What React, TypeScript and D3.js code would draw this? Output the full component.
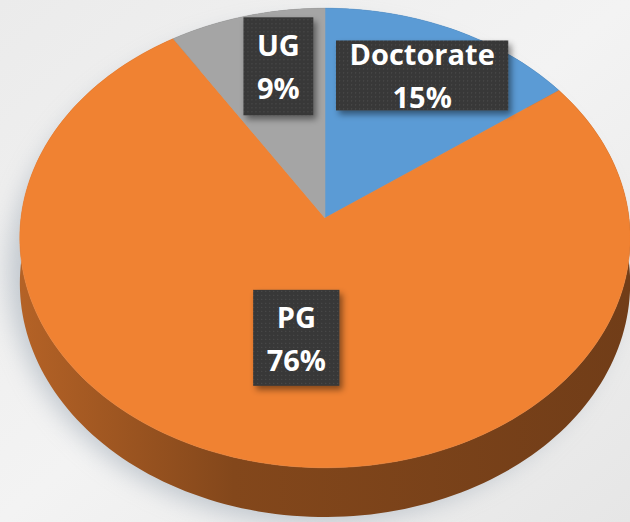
import React from "react";
import * as d3 from "d3";

// slice data, clockwise from 12 o'clock
const categories = ["Doctorate", "PG", "UG"];
const values = [15, 76, 9];
const colors = ["#5B9BD5", "#F08232", "#A5A5A5"];
// label nudges relative to the projected centroid
const labelNudge = [
  [3, -4],
  [15, -52],
  [11, -3],
];
const labelPadY = [0, 13, 14];

const W = 630;
const H = 522;
const cx = 325;
const cy = 218;
const rx = 304;
const ry = 228;
const k = 0.087; // perspective strength
const depth = 45;
const fontSize = 29;
const font = `bold ${fontSize}px 'Open Sans'`;

// unit disk -> screen, angle clockwise from top
function project(a: number, r: number, drop = 0): [number, number] {
  const u = Math.sin(a) * r;
  const v = -Math.cos(a) * r;
  const w = 1 / (1 - k * v);
  return [cx + rx * u * w, cy + ry * v * w + drop * w];
}

function arcPoints(a0: number, a1: number, drop = 0) {
  const n = Math.max(2, Math.ceil(((a1 - a0) / (2 * Math.PI)) * 240));
  const pts: [number, number][] = [];
  for (let i = 0; i <= n; i++) pts.push(project(a0 + ((a1 - a0) * i) / n, 1, drop));
  return pts;
}

let ctx: CanvasRenderingContext2D | null = null;
function textWidth(s: string) {
  if (!ctx) ctx = document.createElement("canvas").getContext("2d");
  if (!ctx) return s.length * fontSize * 0.55;
  ctx.font = font;
  return ctx.measureText(s).width;
}

export default function App() {
  const pie = d3
    .pie<number>()
    .sort(null)
    .value((d) => d);
  const arcs = pie(values);
  const line = d3.line();
  const total = d3.sum(values);

  React.useEffect(() => {
    document.body.style.margin = "0";
  }, []);

  return (
    <svg width={W} height={H} style={{ display: "block" }}>
      <defs>
        <linearGradient id="bg" x1="0" y1="0" x2="1" y2="1">
          <stop offset="0" stopColor="#ebebeb" />
          <stop offset="0.5" stopColor="#f3f3f3" />
          <stop offset="1" stopColor="#e6e6e6" />
        </linearGradient>
        <filter id="blur" x="-20%" y="-20%" width="140%" height="140%">
          <feGaussianBlur stdDeviation="12" />
        </filter>
        <filter id="boxShadow" x="-30%" y="-30%" width="160%" height="160%">
          <feDropShadow dx="3" dy="4" stdDeviation="3" floodColor="#000" floodOpacity="0.45" />
        </filter>
        <pattern id="dots" width="4" height="4" patternUnits="userSpaceOnUse">
          <rect width="4" height="4" fill="#383838" />
          <rect x="1" y="1" width="1" height="1" fill="#525252" />
        </pattern>
        {arcs.map((a, i) => {
          const c = d3.color(colors[i])!;
          return (
            <linearGradient
              key={i}
              id={"wall" + i}
              gradientUnits="userSpaceOnUse"
              x1={cx - rx}
              y1={0}
              x2={cx + rx}
              y2={0}
            >
              <stop offset="0" stopColor={c.darker(0.8).toString()} />
              <stop offset="0.35" stopColor={c.darker(1.7).toString()} />
              <stop offset="1" stopColor={c.darker(2.1).toString()} />
            </linearGradient>
          );
        })}
      </defs>
      <rect width={W} height={H} fill="url(#bg)" />
      <ellipse
        cx={cx - 10}
        cy={cy + 55}
        rx={rx + 2}
        ry={ry + 22}
        fill="#9aa6b2"
        opacity={0.55}
        filter="url(#blur)"
      />
      {/* side walls */}
      {arcs.map((a, i) => {
        const top = arcPoints(a.startAngle, a.endAngle, 0);
        const bot = arcPoints(a.startAngle, a.endAngle, depth).reverse();
        return (
          <path
            key={"w" + i}
            d={line([...top, ...bot])! + "Z"}
            fill={`url(#wall${i})`}
          />
        );
      })}
      {/* top faces */}
      {arcs.map((a, i) => {
        const pts = [project(0, 0), ...arcPoints(a.startAngle, a.endAngle, 0)];
        return (
          <path
            key={"t" + i}
            d={line(pts)! + "Z"}
            fill={colors[i]}
            stroke={colors[i]}
            strokeWidth={0.6}
          />
        );
      })}
      {/* labels */}
      {arcs.map((a, i) => {
        const mid = (a.startAngle + a.endAngle) / 2;
        const [px, py] = project(mid, 0.72);
        const x = px + labelNudge[i][0];
        const y = py + labelNudge[i][1];
        const name = categories[i];
        const pct = Math.round((values[i] / total) * 100) + "%";
        const tw = Math.max(textWidth(name), textWidth(pct));
        const bw = tw + 27;
        const bh = 70 + labelPadY[i] * 2;
        return (
          <g key={"l" + i} transform={`translate(${x},${y})`}>
            <rect
              x={-bw / 2}
              y={-bh / 2}
              width={bw}
              height={bh}
              fill="url(#dots)"
              filter="url(#boxShadow)"
            />
            <g
              fill="#fff"
              fontFamily="'Open Sans', sans-serif"
              fontWeight="bold"
              fontSize={fontSize}
              textAnchor="middle"
            >
              <text y={-10}>{name}</text>
              <text y={33}>{pct}</text>
            </g>
          </g>
        );
      })}
    </svg>
  );
}
